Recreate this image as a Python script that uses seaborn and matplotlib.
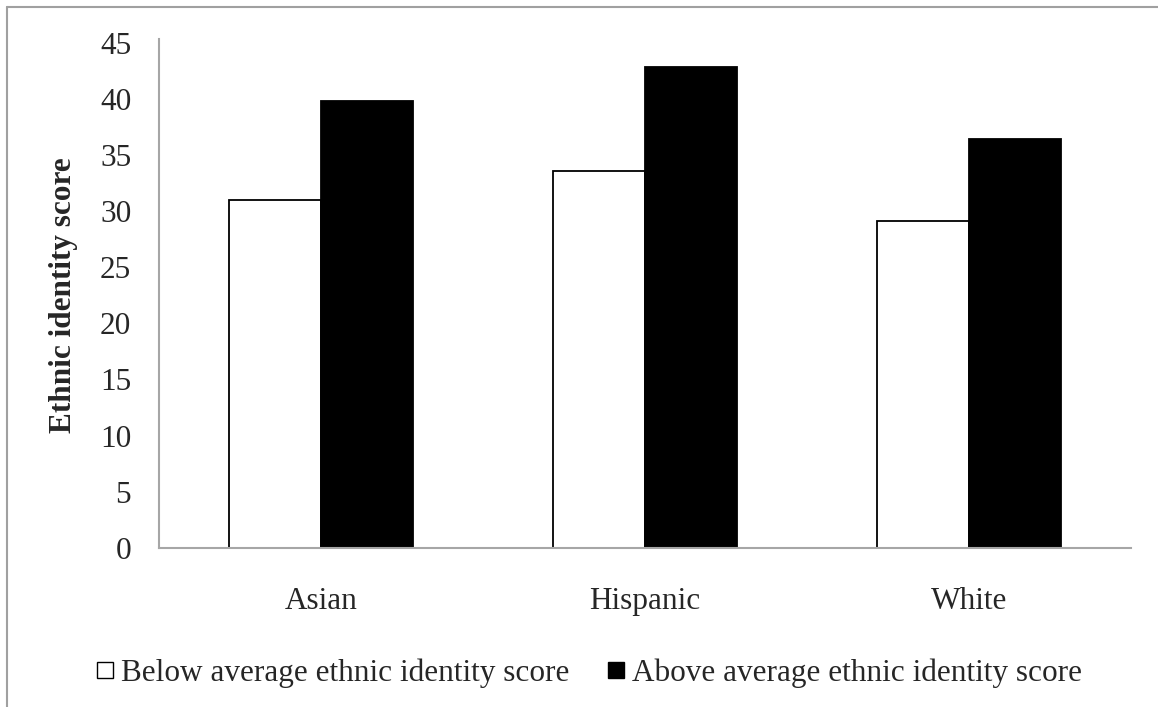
import numpy as np
import pandas as pd
import matplotlib
matplotlib.use("Agg")
import matplotlib.pyplot as plt
from matplotlib.lines import Line2D
import seaborn as sns

# values
groups = ["Asian", "Hispanic", "White"]
below_avg = [31.0, 33.6, 29.1]
above_avg = [39.8, 42.8, 36.4]
series_names = ["Below average ethnic identity score", "Above average ethnic identity score"]
y_ticks = [0, 5, 10, 15, 20, 25, 30, 35, 40, 45]

df = pd.DataFrame({
    "group": groups * 2,
    "score": below_avg + above_avg,
    "series": [series_names[0]] * len(groups) + [series_names[1]] * len(groups),
})

sns.set_style("white")
plt.rcParams["font.family"] = ["Liberation Serif", "DejaVu Serif"]

W, H = 1158, 707
fig = plt.figure(figsize=(W / 100, H / 100), dpi=100)
ax = fig.add_axes([159 / W, 1 - 548 / H, (1131 - 159) / W, (548 - 42.5) / H])

sns.barplot(data=df, x="group", y="score", hue="series", order=groups,
            hue_order=series_names, palette=["white", "black"],
            width=0.57, gap=0, edgecolor="black", linewidth=1.3,
            legend=False, ax=ax)

ax.set_ylim(0, 45)
ax.set_yticks(y_ticks)
ax.set_xlim(-0.5, len(groups) - 0.5)
ax.tick_params(axis="y", length=0, pad=20, labelsize=22.5)
ax.tick_params(axis="x", length=0, pad=28, labelsize=22.5)
ax.set_xlabel("")
ax.set_ylabel("Ethnic identity score", fontsize=22.5, fontweight="bold", labelpad=16)

for side in ["top", "right"]:
    ax.spines[side].set_visible(False)
for side in ["left", "bottom"]:
    ax.spines[side].set_color("#a6a6a6")
    ax.spines[side].set_linewidth(1.5)
ax.spines["left"].set_bounds(0, 45.3)

handles = [
    Line2D([], [], marker="s", linestyle="none", markersize=12,
           markerfacecolor="white", markeredgecolor="black", markeredgewidth=1.0),
    Line2D([], [], marker="s", linestyle="none", markersize=12,
           markerfacecolor="black", markeredgecolor="black"),
]
fig.legend(handles, series_names, loc="center", bbox_to_anchor=(589 / W, 1 - 673 / H),
           ncol=2, frameon=False, fontsize=22.5, handlelength=0.6,
           handletextpad=0.2, columnspacing=1.2, borderpad=0)

# outer chart frame (grey), cut off at right and bottom like the reference
frame_c = "#a0a0a0"
fig.add_artist(Line2D([7 / W, 7 / W], [0, 1 - 7 / H], color=frame_c, lw=1.5,
                      transform=fig.transFigure))
fig.add_artist(Line2D([7 / W, 1], [1 - 7 / H, 1 - 7 / H], color=frame_c, lw=1.5,
                      transform=fig.transFigure))

fig.savefig("out.png", dpi=100, facecolor="white")
